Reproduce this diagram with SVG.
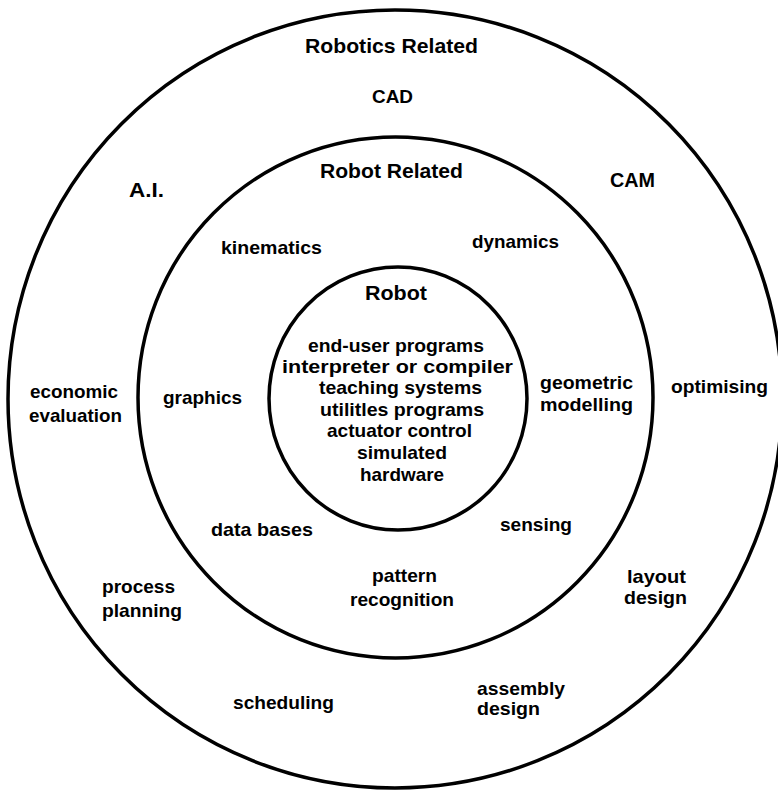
<svg xmlns="http://www.w3.org/2000/svg" width="778" height="790" viewBox="0 0 778 790">
  <style>
    .ring { fill: none; stroke: #000; stroke-width: 3.5; }
    text { font-family: "Liberation Sans", Arial, Helvetica, sans-serif; font-weight: bold; fill: #000; }
    .title { font-size: 21px; text-anchor: middle; }
    .lbl { font-size: 19px; text-anchor: middle; }
    .lbl-s { font-size: 19px; text-anchor: start; }
  </style>
  <rect x="0" y="0" width="778" height="790" fill="#fff"/>

  <g id="connectors"></g>

  <g id="ring-robotics-related">
    <ellipse class="ring" cx="395" cy="399" rx="387" ry="389"/>
    <text class="title" x="391.5" y="53" textLength="173" lengthAdjust="spacingAndGlyphs">Robotics Related</text>
    <text class="lbl" x="392.5" y="103" textLength="41" lengthAdjust="spacingAndGlyphs">CAD</text>
    <text class="lbl" x="146.5" y="197" textLength="35" lengthAdjust="spacingAndGlyphs" style="font-size:20px">A.I.</text>
    <text class="lbl" x="632.5" y="187" textLength="45" lengthAdjust="spacingAndGlyphs" style="font-size:20px">CAM</text>
    <text class="lbl" x="74" y="398" textLength="88" lengthAdjust="spacingAndGlyphs">economic</text>
    <text class="lbl" x="75.5" y="422" textLength="93" lengthAdjust="spacingAndGlyphs">evaluation</text>
    <text class="lbl" x="719.5" y="393" textLength="97" lengthAdjust="spacingAndGlyphs">optimising</text>
    <text class="lbl-s" x="102" y="593" textLength="73" lengthAdjust="spacingAndGlyphs">process</text>
    <text class="lbl-s" x="102" y="617" textLength="80" lengthAdjust="spacingAndGlyphs">planning</text>
    <text class="lbl" x="656.5" y="583" textLength="59" lengthAdjust="spacingAndGlyphs">layout</text>
    <text class="lbl" x="655.5" y="604" textLength="63" lengthAdjust="spacingAndGlyphs">design</text>
    <text class="lbl" x="283.5" y="709" textLength="101" lengthAdjust="spacingAndGlyphs">scheduling</text>
    <text class="lbl-s" x="477" y="695" textLength="88" lengthAdjust="spacingAndGlyphs">assembly</text>
    <text class="lbl-s" x="477" y="715" textLength="63" lengthAdjust="spacingAndGlyphs">design</text>
  </g>

  <g id="ring-robot-related">
    <ellipse class="ring" cx="395.5" cy="397.5" rx="257.5" ry="260.5"/>
    <text class="title" x="391.5" y="178" textLength="143" lengthAdjust="spacingAndGlyphs">Robot Related</text>
    <text class="lbl" x="271.5" y="254" textLength="101" lengthAdjust="spacingAndGlyphs">kinematics</text>
    <text class="lbl" x="515.5" y="248" textLength="87" lengthAdjust="spacingAndGlyphs">dynamics</text>
    <text class="lbl" x="202.5" y="404" textLength="79" lengthAdjust="spacingAndGlyphs">graphics</text>
    <text class="lbl" x="586.5" y="389" textLength="93" lengthAdjust="spacingAndGlyphs">geometric</text>
    <text class="lbl" x="586.5" y="411" textLength="93" lengthAdjust="spacingAndGlyphs">modelling</text>
    <text class="lbl" x="262" y="536" textLength="102" lengthAdjust="spacingAndGlyphs">data bases</text>
    <text class="lbl" x="536" y="531" textLength="72" lengthAdjust="spacingAndGlyphs">sensing</text>
    <text class="lbl" x="404.5" y="582" textLength="65" lengthAdjust="spacingAndGlyphs">pattern</text>
    <text class="lbl" x="402" y="606" textLength="104" lengthAdjust="spacingAndGlyphs">recognition</text>
  </g>

  <g id="ring-robot">
    <ellipse class="ring" cx="398" cy="398.5" rx="129" ry="131.5"/>
    <text class="title" x="396" y="300" textLength="62" lengthAdjust="spacingAndGlyphs">Robot</text>
    <text class="lbl" x="396" y="352" textLength="176" lengthAdjust="spacingAndGlyphs">end-user programs</text>
    <text class="lbl" x="397.5" y="373" textLength="231" lengthAdjust="spacingAndGlyphs">interpreter or compiler</text>
    <text class="lbl" x="400.5" y="394" textLength="163" lengthAdjust="spacingAndGlyphs">teaching systems</text>
    <text class="lbl" x="402" y="416" textLength="164" lengthAdjust="spacingAndGlyphs">utilitles programs</text>
    <text class="lbl" x="399.5" y="437" textLength="145" lengthAdjust="spacingAndGlyphs">actuator control</text>
    <text class="lbl" x="402" y="459" textLength="90" lengthAdjust="spacingAndGlyphs">simulated</text>
    <text class="lbl" x="402" y="481" textLength="84" lengthAdjust="spacingAndGlyphs">hardware</text>
  </g>
</svg>
